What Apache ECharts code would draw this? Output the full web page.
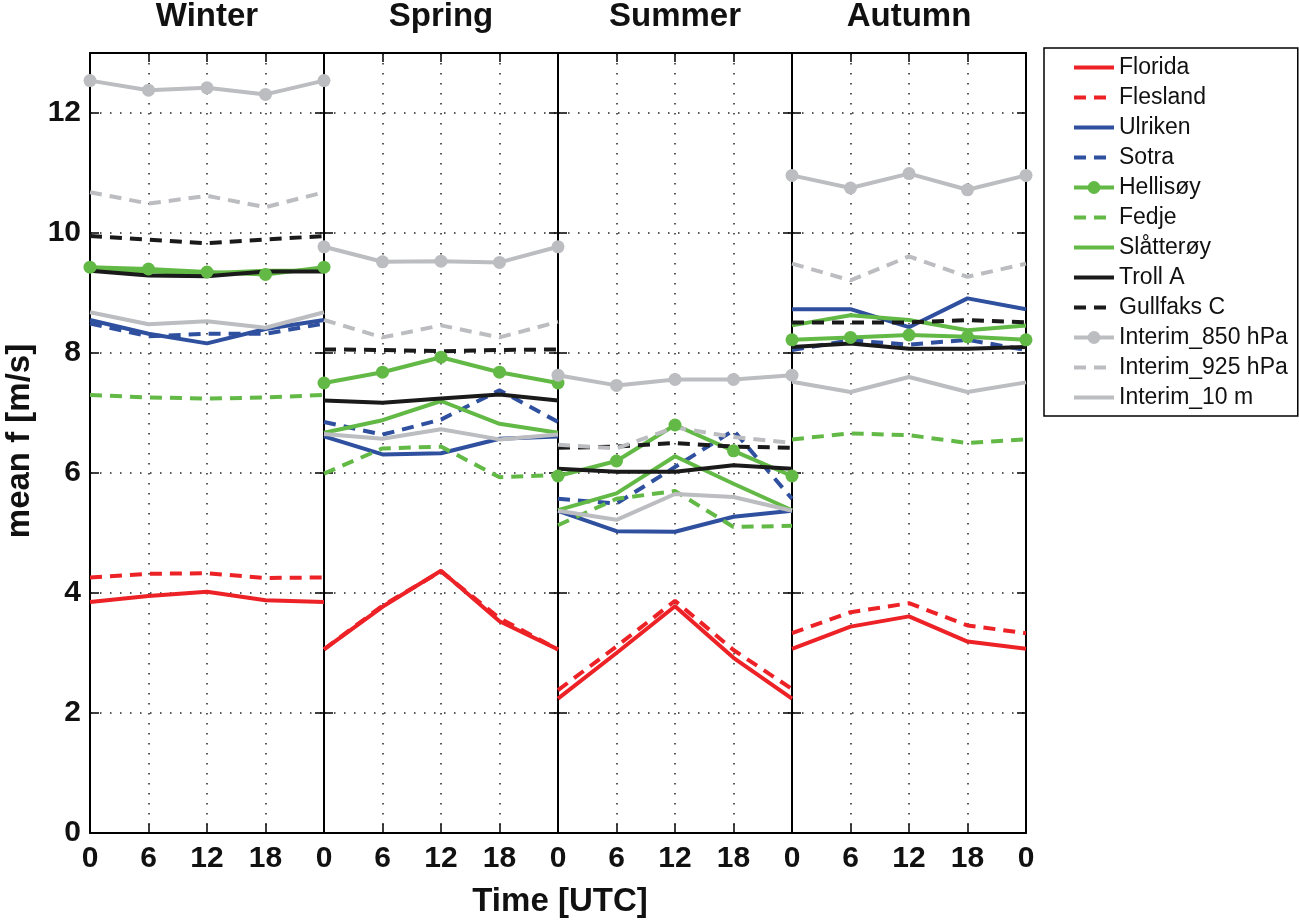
<!DOCTYPE html>
<html lang="en">
<head>
<meta charset="UTF-8">
<title>mean f by season</title>
<style>html,body{margin:0;padding:0;background:#fff}</style>
</head>
<body>
<div id="main" style="width: 1299px;height: 921px"></div>
<script type="text/javascript" src="https://cdn.jsdelivr.net/npm/echarts@6/dist/echarts.min.js"></script>
<script>
var seasons = ['Winter', 'Spring', 'Summer', 'Autumn'];
var hours = [0, 6, 12, 18, 24];
var hourLabels = ['0', '6', '12', '18', '0'];

var stations = ['Florida', 'Flesland', 'Ulriken', 'Sotra', 'Hellisøy', 'Fedje',
  'Slåtterøy', 'Troll A', 'Gullfaks C', 'Interim_850 hPa', 'Interim_925 hPa', 'Interim_10 m'];

// one row per season (winter, spring, summer, autumn), values at 0, 6, 12, 18, 24 UTC
var florida = [[3.85, 3.95, 4.02, 3.88, 3.85], [3.06, 3.77, 4.37, 3.53, 3.06], [2.24, 3.00, 3.78, 2.92, 2.24], [3.07, 3.44, 3.61, 3.19, 3.07]];
var flesland = [[4.26, 4.32, 4.33, 4.25, 4.26], [3.06, 3.79, 4.36, 3.58, 3.06], [2.38, 3.11, 3.87, 3.05, 2.40], [3.33, 3.68, 3.83, 3.46, 3.33]];
var ulriken = [[8.55, 8.32, 8.16, 8.40, 8.55], [6.61, 6.31, 6.33, 6.57, 6.61], [5.37, 5.03, 5.02, 5.27, 5.37], [8.73, 8.73, 8.43, 8.91, 8.73]];
var sotra = [[8.49, 8.28, 8.32, 8.32, 8.49], [6.85, 6.64, 6.89, 7.38, 6.85], [5.57, 5.49, 6.10, 6.71, 5.57], [8.05, 8.21, 8.14, 8.22, 8.05]];
var hellisoy = [[9.43, 9.40, 9.35, 9.31, 9.43], [7.50, 7.68, 7.93, 7.68, 7.50], [5.95, 6.20, 6.80, 6.37, 5.95], [8.22, 8.26, 8.30, 8.27, 8.22]];
var fedje = [[7.30, 7.26, 7.24, 7.26, 7.30], [5.99, 6.41, 6.44, 5.93, 5.97], [5.13, 5.57, 5.70, 5.10, 5.12], [6.56, 6.66, 6.63, 6.50, 6.56]];
var slatteroy = [[9.37, 9.36, 9.33, 9.37, 9.37], [6.67, 6.88, 7.20, 6.82, 6.67], [5.38, 5.66, 6.28, 5.82, 5.38], [8.46, 8.63, 8.55, 8.38, 8.46]];
var trollA = [[9.37, 9.29, 9.28, 9.36, 9.36], [7.21, 7.17, 7.24, 7.31, 7.21], [6.07, 6.02, 6.02, 6.13, 6.07], [8.10, 8.16, 8.07, 8.07, 8.10]];
var gullfaksC = [[9.95, 9.89, 9.83, 9.89, 9.95], [8.06, 8.05, 8.03, 8.05, 8.06], [6.42, 6.44, 6.50, 6.44, 6.42], [8.51, 8.51, 8.51, 8.55, 8.51]];
var interim850 = [[12.54, 12.38, 12.42, 12.31, 12.54], [9.77, 9.52, 9.53, 9.51, 9.77], [7.63, 7.46, 7.56, 7.56, 7.63], [10.96, 10.75, 10.99, 10.72, 10.96]];
var interim925 = [[10.68, 10.49, 10.62, 10.43, 10.68], [8.55, 8.26, 8.46, 8.26, 8.52], [6.47, 6.41, 6.76, 6.60, 6.50], [9.49, 9.21, 9.61, 9.27, 9.49]];
var interim10 = [[8.68, 8.48, 8.53, 8.42, 8.68], [6.65, 6.57, 6.73, 6.56, 6.64], [5.37, 5.22, 5.65, 5.60, 5.37], [7.52, 7.35, 7.60, 7.35, 7.51]];

var values = [florida, flesland, ulriken, sotra, hellisoy, fedje, slatteroy, trollA, gullfaksC, interim850, interim925, interim10];

var RED = '#ec2227', BLUE = '#2f4f9f', GREEN = '#63b946', BLACK = '#1a1a1a', GREY = '#bcbdc0';
var styles = [
  {color: RED}, {color: RED, dash: true},
  {color: BLUE}, {color: BLUE, dash: true},
  {color: GREEN, marker: true}, {color: GREEN, dash: true}, {color: GREEN},
  {color: BLACK}, {color: BLACK, dash: true},
  {color: GREY, marker: true}, {color: GREY, dash: true}, {color: GREY}
];

var FONT = 'Liberation Sans';
var panelLeft = 90, panelW = 234, panelTop = 53, panelH = 780;

var grids = [], xAxes = [], yAxes = [], series = [], texts = [];
var dotted = {show: true, lineStyle: {color: '#222', width: 1.5, type: [1.5, 8.5]}};
var edge = {show: true, onZero: false, lineStyle: {color: '#000', width: 2}};
var tick = {show: true, inside: true, length: 9, lineStyle: {color: '#000', width: 1.5}};

seasons.forEach(function (season, s) {
  grids.push({left: panelLeft + s * panelW, top: panelTop, width: panelW, height: panelH});
  xAxes[s] = {
    type: 'value', gridIndex: s, min: 0, max: 24, interval: 6, position: 'bottom',
    axisLine: edge, axisTick: tick, splitLine: dotted,
    axisLabel: {
      margin: 11, fontSize: 30, fontWeight: 'bold', fontFamily: FONT, color: '#111',
      showMaxLabel: s === 3,
      formatter: function (v) { return hourLabels[hours.indexOf(v)]; }
    }
  };
  xAxes[s + 4] = {
    type: 'value', gridIndex: s, min: 0, max: 24, interval: 6, position: 'top',
    axisLine: edge, axisTick: tick, splitLine: {show: false}, axisLabel: {show: false}
  };
  yAxes[s] = {
    type: 'value', gridIndex: s, min: 0, max: 13, interval: 2, position: 'left',
    axisLine: edge, axisTick: tick, splitLine: dotted,
    axisLabel: {
      show: s === 0, margin: 9, fontSize: 30, fontWeight: 'bold', fontFamily: FONT, color: '#111',
      formatter: function (v) { return v % 2 === 0 ? String(v) : ''; }
    }
  };
  yAxes[s + 4] = {
    type: 'value', gridIndex: s, min: 0, max: 13, interval: 2, position: 'right',
    axisLine: edge, axisTick: tick, splitLine: {show: false}, axisLabel: {show: false}
  };
  texts.push({
    type: 'text', x: panelLeft + (s + 0.5) * panelW, y: 17,
    style: {text: season, fontSize: 33, fontWeight: 'bold', fontFamily: FONT, fill: '#111', align: 'center', verticalAlign: 'middle'}
  });

  stations.forEach(function (name, k) {
    var st = styles[k];
    series.push({
      name: name, type: 'line', xAxisIndex: s, yAxisIndex: s,
      data: hours.map(function (h, j) { return [h, values[k][s][j]]; }),
      symbol: 'circle', symbolSize: 13, showSymbol: !!st.marker,
      lineStyle: {color: st.color, width: 4, type: st.dash ? [12, 8] : 'solid'},
      itemStyle: {color: st.color},
      emphasis: {disabled: true}, silent: true
    });
  });
});

texts.push({
  type: 'text', x: panelLeft + 2 * panelW + 2, y: 902,
  style: {text: 'Time [UTC]', fontSize: 33, fontWeight: 'bold', fontFamily: FONT, fill: '#111', align: 'center', verticalAlign: 'middle'}
});
texts.push({
  type: 'text', x: 20, y: 441, rotation: Math.PI / 2,
  style: {text: 'mean f [m/s]', fontSize: 33, fontWeight: 'bold', fontFamily: FONT, fill: '#111', align: 'center', verticalAlign: 'middle'}
});

var option = {
  animation: false,
  backgroundColor: '#fff',
  grid: grids,
  xAxis: xAxes,
  yAxis: yAxes,
  legend: {
    orient: 'vertical', left: 1044, top: 48,
    itemWidth: 40, itemHeight: 16, itemGap: 7,
    padding: [8, 10, 7, 28],
    borderColor: '#000', borderWidth: 1.5, selectedMode: false,
    lineStyle: {width: 4},
    textStyle: {fontSize: 23, fontFamily: FONT, color: '#111'},
    data: stations.map(function (name, k) {
      return styles[k].marker ? {name: name} : {name: name, itemStyle: {opacity: 0}};
    })
  },
  graphic: texts,
  series: series
};

var myChart = echarts.init(document.getElementById('main'));
myChart.setOption(option);
</script>
</body>
</html>
